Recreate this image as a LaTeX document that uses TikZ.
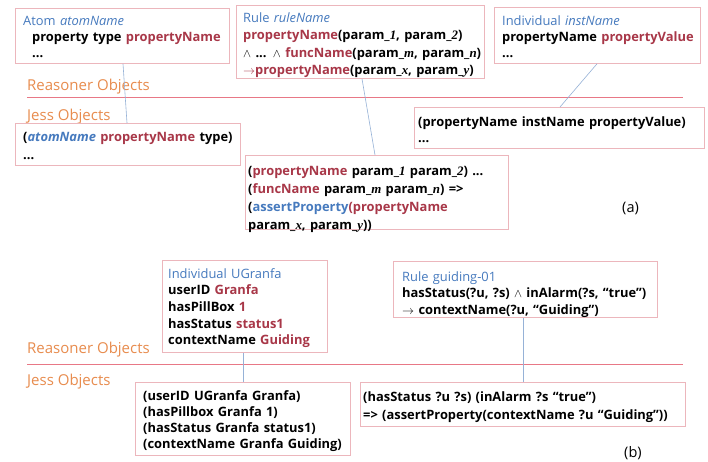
\documentclass[tikz,border=0pt]{standalone}
\usepackage{fontspec}
\setmainfont{Open Sans}
\newfontfamily\sit{Liberation Serif}
\definecolor{hblue}{RGB}{70,122,190}
\definecolor{dred}{RGB}{168,55,72}
\definecolor{lorange}{RGB}{232,140,78}
\definecolor{boxc}{RGB}{236,182,188}
\definecolor{sepc}{RGB}{232,120,134}
\definecolor{connc}{RGB}{150,178,215}
\newcommand{\pit}[1]{{\sit\itshape #1}}
\begin{document}
\begin{tikzpicture}[x=1pt,y=-1pt,
  box/.style={draw=boxc,line width=0.8pt,anchor=north west,inner sep=0pt},
  txt/.style={anchor=base west,inner sep=0pt,text width=330pt,align=left,font=\fontsize{12.9}{#1}\selectfont\bfseries},
  lbl/.style={anchor=base west,inner sep=0pt,font=\fontsize{15}{17}\selectfont,text=lorange},
  tag/.style={anchor=base west,inner sep=0pt,font=\fontsize{14.5}{17}\selectfont},
  sep/.style={draw=sepc,line width=1.2pt},
  conn/.style={draw=connc,line width=0.6pt}]
\useasboundingbox[fill=white] (0,0) rectangle (708,461);

% ---------------- (a) ----------------
\node[box,minimum width=214pt,minimum height=55pt] (atom) at (15,8) {};
\node[txt=16pt] (atomt) at (23,25) {\textcolor{hblue}{\mdseries Atom \textit{atomName}}\\
\hspace*{9pt}property type \textcolor{dred}{propertyName}\\
\hspace*{9pt}...};

\node[box,minimum width=248pt,minimum height=73pt] (rule) at (236,5) {};
\node[txt=17.5pt] (rulet) at (243,22) {\textcolor{hblue}{\mdseries Rule \textit{ruleName}}\\
\textcolor{dred}{propertyName}(param\_\pit{1}, param\_\pit{2})\\
$\wedge$ ... $\wedge$ \textcolor{dred}{funcName}(param\_\pit{m}, param\_\pit{n})\\
\textcolor{dred}{$\rightarrow$propertyName}(param\_\pit{x}, param\_\pit{y})};

\node[box,minimum width=206pt,minimum height=56pt] (ind) at (494,7) {};
\node[txt=16pt] (indt) at (502,25) {\textcolor{hblue}{\mdseries Individual \textit{instName}}\\
propertyName \textcolor{dred}{propertyValue}\\
...};

\node[lbl] (reasa) at (27,90) {Reasoner Objects};
\draw[sep] (27,97.5) -- (683,97.5);
\node[lbl] (jessa) at (27,120) {Jess Objects};

\node[box,minimum width=225pt,minimum height=42pt] (atomj) at (15,123) {};
\node[txt=18pt] (atomjt) at (23,141) {(\textcolor{hblue}{\textit{atomName}} \textcolor{dred}{propertyName} type)\\
...};

\node[box,minimum width=290pt,minimum height=41pt] (indj) at (414,107) {};
\node[txt=16pt] (indjt) at (418,126) {(propertyName instName propertyValue)\\
...};

\node[box,minimum width=263pt,minimum height=74pt] (rulej) at (245,155) {};
\node[txt=18pt] (rulejt) at (248,175) {(\textcolor{dred}{propertyName} param\_\pit{1} param\_\pit{2}) ...\\
(\textcolor{dred}{funcName} param\_\pit{m} param\_\pit{n}) =>\\
(\textcolor{hblue}{assertProperty}\textcolor{dred}{(propertyName}\\
param\_\pit{x}, param\_\pit{y}))};

\node[tag] (taga) at (622,212) {(a)};

\draw[conn] ([xshift=108pt]atom.south west) -- ([xshift=112pt]atomj.north west);
\draw[conn] ([xshift=126pt]rule.south west) -- ([xshift=130pt]rulej.north west);
\draw[conn] ([xshift=103pt]ind.south west) -- ([xshift=146pt]indj.north west);

% ---------------- (b) ----------------
\node[box,minimum width=165pt,minimum height=92pt] (indb) at (162,260) {};
\node[txt=16.7pt] (indbt) at (168,278) {\textcolor{hblue}{\mdseries Individual UGranfa}\\
userID \textcolor{dred}{Granfa}\\
hasPillBox \textcolor{dred}{1}\\
hasStatus \textcolor{dred}{status1}\\
contextName \textcolor{dred}{Guiding}};

\node[box,minimum width=264pt,minimum height=56pt] (ruleb) at (393,261) {};
\node[txt=16.5pt] (rulebt) at (402,281) {\textcolor{hblue}{\mdseries Rule guiding-01}\\
hasStatus(?u, ?s) $\wedge$ inAlarm(?s, “true”)\\
$\rightarrow$ contextName(?u, “Guiding”)};

\node[lbl] (reasb) at (27,353) {Reasoner Objects};
\draw[sep] (27,364.5) -- (683,364.5);
\node[lbl] (jessb) at (27,385) {Jess Objects};

\node[box,minimum width=215pt,minimum height=73pt] (indbj) at (135,382) {};
\node[txt=16pt] (indbjt) at (143,400) {(userID UGranfa Granfa)\\
(hasPillbox Granfa 1)\\
(hasStatus Granfa status1)\\
(contextName Granfa Guiding)};

\node[box,minimum width=325pt,minimum height=44pt] (rulebj) at (360,382) {};
\node[txt=18pt] (rulebjt) at (363,401) {(hasStatus ?u ?s) (inAlarm ?s “true”)\\
=> (assertProperty(contextName ?u “Guiding”))};

\node[tag] (tagb) at (624,457) {(b)};

\draw[conn] ([xshift=81pt]indb.south west) -- ([xshift=108pt]indbj.north west);
\draw[conn] ([xshift=130pt]ruleb.south west) -- ([xshift=163pt]rulebj.north west);
\end{tikzpicture}
\end{document}
